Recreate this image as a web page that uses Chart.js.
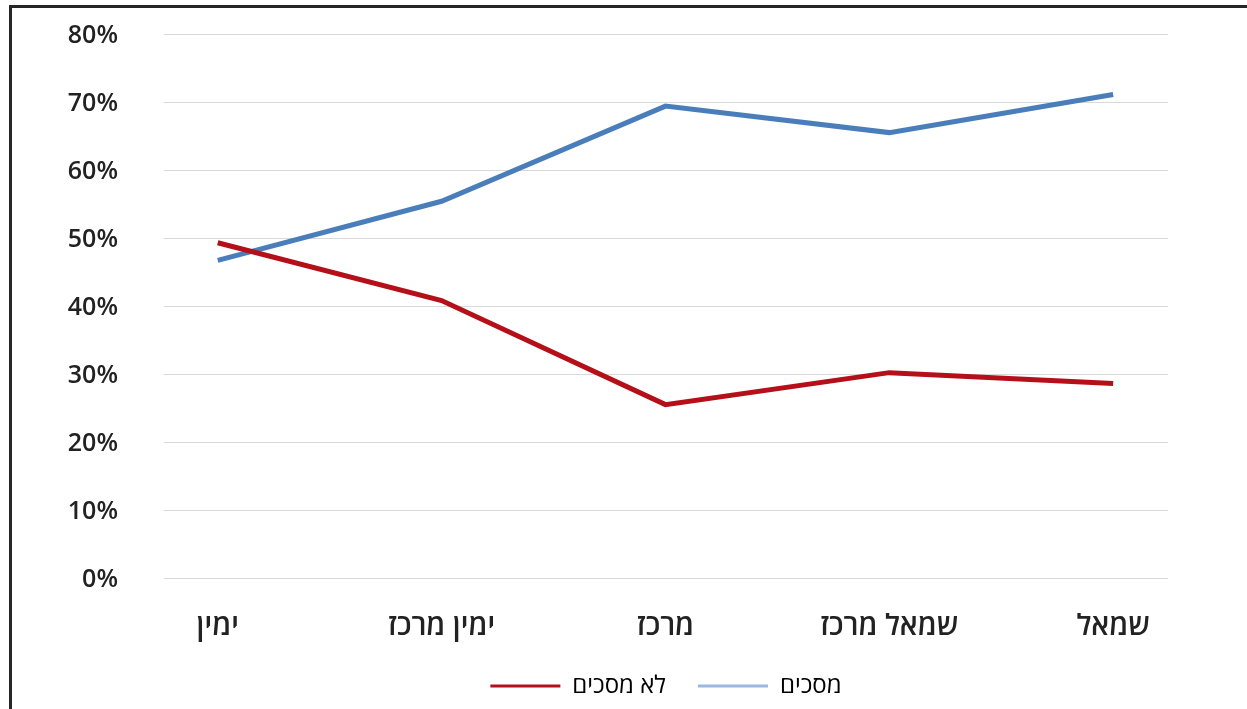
<!DOCTYPE html>
<html>
<head>
<meta charset="utf-8">
<script src="https://cdn.jsdelivr.net/npm/chart.js@4/dist/chart.umd.min.js"></script>
<style>
  body { margin:0; background:#fff; overflow:hidden; }
  #frame {
    position:absolute; left:9px; top:5px; width:1238px; height:704px;
    border-left:3px solid #262626; border-top:3px solid #262626;
  }
  #wrap { position:absolute; left:0; top:0; width:1235px; height:701px; }
</style>
</head>
<body>
<div id="frame"><div id="wrap"><canvas id="chart"></canvas></div></div>
<script>
const categories = ['ימין', 'ימין מרכז', 'מרכז', 'שמאל מרכז', 'שמאל'];
const agree = [46.7, 55.4, 69.4, 65.5, 71.1];
const disagree = [49.3, 40.8, 25.5, 30.2, 28.6];
const yTicks = [0, 10, 20, 30, 40, 50, 60, 70, 80];

const blue = '#4a7ebb';
const red = '#b50f1a';
const font = "'Open Sans', 'DejaVu Sans', sans-serif";

const toPoints = arr => arr.map((v, i) => ({x:i, y:v}));

new Chart(document.getElementById('chart'), {
  type:'line',
  data:{datasets:[
    {label:'לא מסכים', data:toPoints(disagree), borderColor:red, backgroundColor:red,
     borderWidth:5, pointRadius:0, tension:0, borderCapStyle:'butt'},
    {label:'מסכים', data:toPoints(agree), borderColor:blue, backgroundColor:blue,
     borderWidth:5, pointRadius:0, tension:0, borderCapStyle:'butt'}
  ]},
  options:{
    responsive:true,
    maintainAspectRatio:false,
    animation:false,
    layout:{padding:{left:0, right:0, top:26, bottom:1}},
    plugins:{
      tooltip:{enabled:false},
      legend:{
        position:'bottom',
        fullSize:false,
        labels:{
          color:'#222',
          font:{family:font, size:24},
          boxWidth:70, boxHeight:3, padding:32,
          generateLabels:chart => chart.data.datasets.map((d, i) => ({
            text:d.label,
            fillStyle:i === 0 ? red : '#9bb7e0',
            strokeStyle:'transparent',
            lineWidth:0,
            datasetIndex:i
          }))
        }
      }
    },
    scales:{
      x:{
        type:'linear', min:-0.24, max:4.245,
        grid:{display:false, drawTicks:false}, border:{display:false},
        afterBuildTicks:s => { s.ticks = categories.map((c, i) => ({value:i})); },
        afterFit:s => { s.height = 64; s.paddingLeft = 0; s.paddingRight = 0; },
        ticks:{
          autoSkip:false, maxRotation:0, padding:31,
          color:'#222', font:{family:font, size:29, weight:'600'},
          callback:v => categories[v]
        }
      },
      y:{
        min:0, max:80,
        afterBuildTicks:s => { s.ticks = yTicks.map(v => ({value:v})); },
        afterFit:s => { s.width = 152; s.paddingTop = 0; s.paddingBottom = 0; },
        grid:{color:'#d9d9d9', lineWidth:1, drawTicks:false},
        border:{display:false},
        ticks:{
          padding:46, labelOffset:2, color:'#222',
          font:{family:font, size:25, weight:'600'},
          callback:v => v + '%'
        }
      },
      // empty right-hand box, only to hold the plot's right margin
      y2:{
        position:'right',
        afterFit:s => { s.width = 79; s.paddingTop = 0; s.paddingBottom = 0; },
        grid:{display:false}, border:{display:false},
        ticks:{display:false}
      }
    }
  }
});
</script>
</body>
</html>
